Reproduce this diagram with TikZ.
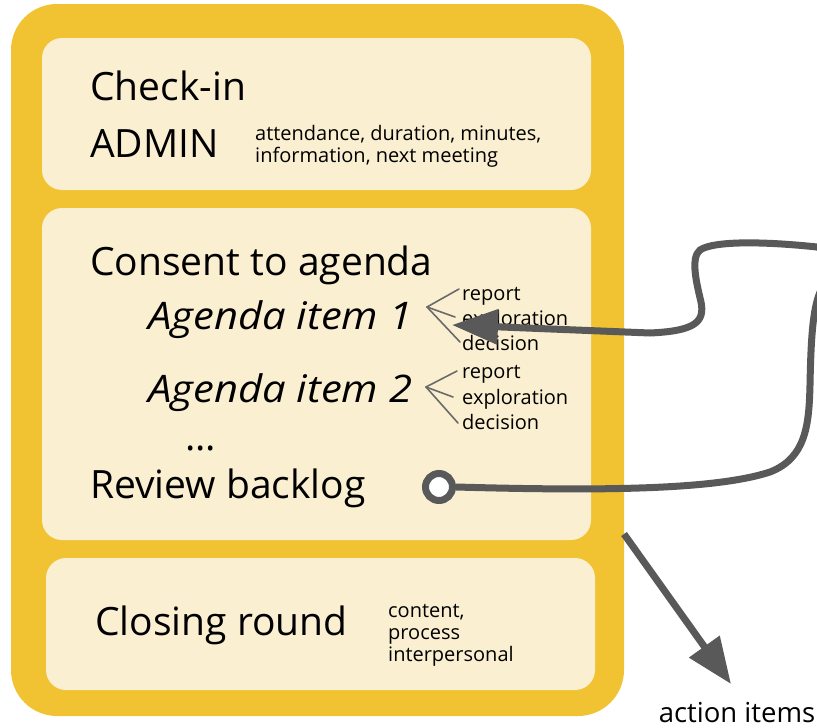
\documentclass[tikz,border=0pt]{standalone}
\usepackage{fontspec}
\setmainfont{Open Sans}
\usetikzlibrary{arrows.meta}
\definecolor{frameyellow}{HTML}{F1C232}
\definecolor{panelcream}{HTML}{FAEFD0}
\definecolor{linkgray}{HTML}{595959}
\definecolor{branchgray}{HTML}{6A6A6A}
\tikzset{
  panel/.style={fill=panelcream, draw=none, rounded corners=20pt},
  bigtxt/.style={anchor=base west, inner sep=0pt, font=\fontsize{39}{42}\selectfont},
  itemtxt/.style={anchor=base west, inner sep=0pt,
    font=\fontsize{38}{42}\selectfont\itshape\addfontfeature{FakeStretch=1.1}},
  smalltxt/.style={anchor=base west, inner sep=0pt, font=\fontsize{20}{22}\selectfont},
  subtxt/.style={anchor=base west, inner sep=0pt, font=\fontsize{20}{22}\selectfont},
  branch/.style={draw=branchgray, line width=1.6pt, line cap=round},
  link/.style={draw=linkgray, line width=7pt},
}
\begin{document}
\begin{tikzpicture}[x=1pt, y=-1pt]
\useasboundingbox (0,0) rectangle (817,728);

% outer frame and the three panels
\fill[frameyellow, rounded corners=46pt] (11,4) rectangle (624,716);
\path[panel] (42,38) rectangle (591,190);
\path[panel] (42,208) rectangle (591,540);
\path[panel] (46,558) rectangle (595,690);

% check-in panel
\node[bigtxt] (checkin) at (90,100) {Check-in};
\node[bigtxt] (admin) at (90,157) {ADMIN};
\node[smalltxt] (adm1) at (255,140) {attendance, duration, minutes,};
\node[smalltxt] (adm2) at (255,162) {information, next meeting};

% agenda panel
\node[bigtxt] (consent) at (90,275) {Consent to agenda};
\node[itemtxt] (item1) at (148,329) {Agenda item 1};
\node[itemtxt] (item2) at (148,402) {Agenda item 2};
\node[bigtxt] (dots) at (185,450) {...};
\node[bigtxt] (backlog) at (90,498) {Review backlog};

\node[subtxt] (rep1) at (462,300) {report};
\node[subtxt] (exp1) at (462,325) {exploration};
\node[subtxt] (dec1) at (462,350) {decision};
\node[subtxt] (rep2) at (462,378) {report};
\node[subtxt] (exp2) at (462,404) {exploration};
\node[subtxt] (dec2) at (462,429) {decision};

\coordinate (fork1) at (427,307);
\coordinate (fork2) at (426,387);
\draw[branch] (fork1) -- (459,289);
\draw[branch] (fork1) -- (455,317);
\draw[branch] (fork1) -- (460,342);
\draw[branch] (fork2) -- (457,371);
\draw[branch] (fork2) -- (453,397);
\draw[branch] (fork2) -- (458,423);

% closing panel
\node[bigtxt] (closing) at (95,635) {Closing round};
\node[smalltxt] (cl1) at (388,617) {content,};
\node[smalltxt] (cl2) at (388,639) {process};
\node[smalltxt] (cl3) at (388,661) {interpersonal};

% backlog loop back to the first agenda item
\node[circle, draw=linkgray, line width=7pt, fill=white, minimum size=27pt, inner sep=0pt] (pin) at (439,487) {};
\coordinate (tip1) at (452,325);
\begin{scope}
\clip (0,0) rectangle (817,728);
\draw[link, -{Triangle[length=46pt, width=34pt]}]
  (pin.east) .. controls (600,491) and (715,490) .. (770,472)
  .. controls (806,458) and (809,425) .. (810,385)
  .. controls (811,335) and (813,300) .. (824,285)
  .. controls (832,272) and (830,250) .. (817,247)
  .. controls (770,242) and (715,240) .. (700,250)
  .. controls (690,258) and (697,285) .. (701,302)
  .. controls (705,322) and (695,331) .. (650,333)
  -- (tip1);
\end{scope}

% action items output
\node[inner sep=0pt, anchor=base, font=\fontsize{27.5}{30}\selectfont] (actions) at (737,722) {action items};
\coordinate (aistart) at (624,534);
\draw[link, -{Triangle[length=46pt, width=36pt]}] (aistart) -- (731,684);
\end{tikzpicture}
\end{document}
